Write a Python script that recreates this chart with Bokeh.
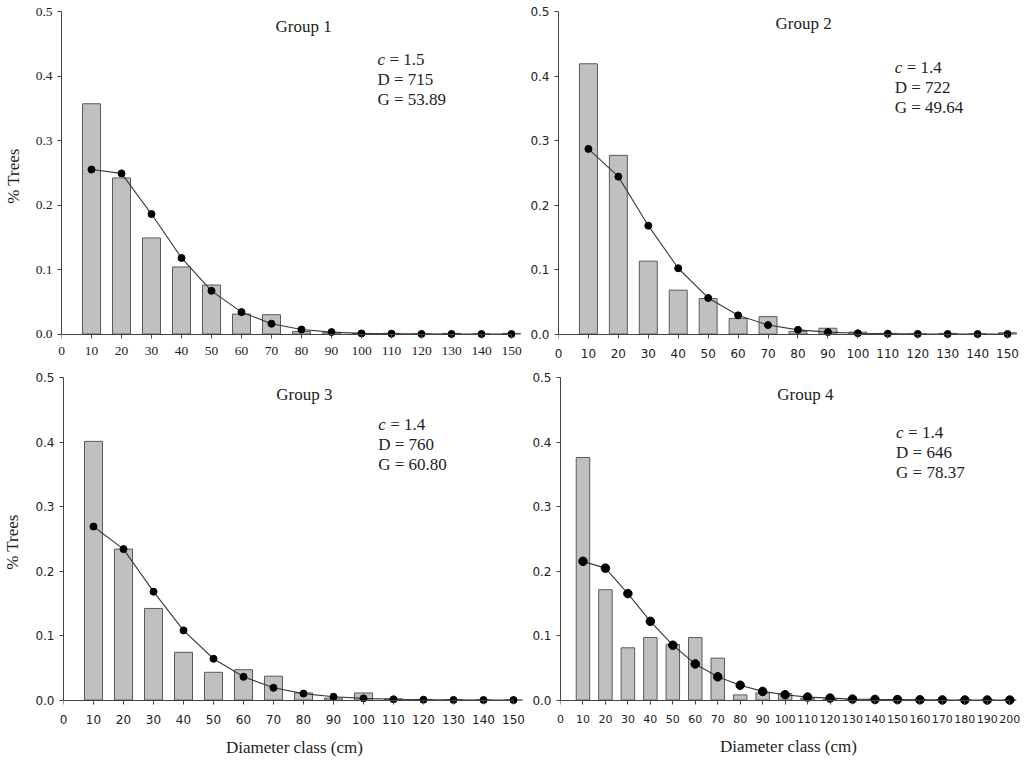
from bokeh.plotting import figure
from bokeh.models import Range1d, FixedTicker, PrintfTickFormatter, Label, LinearAxis
from bokeh.layouts import column, row
from bokeh.embed import file_html
from bokeh.resources import INLINE

# ---------------- data ----------------
classes_150 = [10, 20, 30, 40, 50, 60, 70, 80, 90, 100, 110, 120, 130, 140, 150]
classes_200 = [10, 20, 30, 40, 50, 60, 70, 80, 90, 100, 110, 120, 130, 140, 150,
               160, 170, 180, 190, 200]

g1_obs = [0.357, 0.242, 0.149, 0.104, 0.076, 0.031, 0.030, 0.004, 0.002, 0.001,
          0.001, 0.0, 0.001, 0.0, 0.001]
g1_fit = [0.255, 0.249, 0.186, 0.118, 0.067, 0.034, 0.016, 0.007, 0.003, 0.001,
          0.0005, 0.0002, 0.0001, 0.0, 0.0]

g2_obs = [0.419, 0.277, 0.113, 0.068, 0.055, 0.024, 0.027, 0.004, 0.009, 0.003,
          0.001, 0.0, 0.001, 0.0, 0.002]
g2_fit = [0.287, 0.244, 0.168, 0.102, 0.056, 0.029, 0.014, 0.0065, 0.003, 0.0013,
          0.0005, 0.0002, 0.0001, 0.0, 0.0]

g3_obs = [0.401, 0.234, 0.142, 0.074, 0.043, 0.047, 0.037, 0.011, 0.003, 0.011,
          0.002, 0.001, 0.0005, 0.0, 0.0]
g3_fit = [0.269, 0.234, 0.168, 0.108, 0.064, 0.036, 0.019, 0.010, 0.005, 0.0026,
          0.0012, 0.0005, 0.0002, 0.0001, 0.0]

g4_obs = [0.376, 0.171, 0.081, 0.097, 0.086, 0.097, 0.065, 0.008, 0.011, 0.010,
          0.003, 0.0015, 0.0005, 0.0003, 0.0003, 0.0002, 0.0, 0.0, 0.0, 0.0]
g4_fit = [0.215, 0.2045, 0.165, 0.122, 0.085, 0.056, 0.036, 0.023, 0.0134, 0.0083,
          0.0046, 0.003, 0.0015, 0.001, 0.0007, 0.0004, 0.0002, 0.0001, 0.0001, 0.0]

y_ticks = [0.0, 0.1, 0.2, 0.3, 0.4, 0.5]

titles = ["Group 1", "Group 2", "Group 3", "Group 4"]
c_values = ["1.5", "1.4", "1.4", "1.4"]
d_lines = ["D = 715", "D = 722", "D = 760", "D =  646"]
g_lines = ["G = 53.89", "G = 49.64", "G = 60.80", "G = 78.37"]

SERIF = "Liberation Serif"
SANS = "DejaVu Sans"
AXIS_COLOR = "#444444"
TEXT_COLOR = "#222222"


def panel(classes, obs, fit, xmax, xend, fw, bl, br, bt, bb, tick_font, ytick_size,
          xtick_size, xstand, idx, tx, ty, ax, ay, ms, ylabel=None, xlabel=None):
    p = figure(frame_width=fw, frame_height=329,
               x_range=Range1d(0, xend), y_range=Range1d(-0.01, 0.5),
               output_backend="svg", toolbar_location=None,
               min_border_left=bl, min_border_right=br,
               min_border_top=bt, min_border_bottom=bb)
    p.background_fill_color = "white"
    p.border_fill_color = "white"
    p.outline_line_color = None
    p.xgrid.visible = False
    p.ygrid.visible = False

    p.vbar(x=classes, top=obs, width=6, bottom=0,
           fill_color="#c0c0c0", line_color="#5a5a5a", line_width=1)
    p.line(classes, fit, line_color="#3a3a3a", line_width=1.1)
    p.scatter(classes, fit, size=ms, fill_color="black", line_color="black")

    xticks = list(range(0, xmax + 1, 10))

    # axis line + ticks drawn at y = 0
    xa = p.xaxis[0]
    xa.ticker = FixedTicker(ticks=xticks)
    xa.bounds = (0, xmax)
    xa.fixed_location = 0
    xa.major_label_text_font_size = "0px"
    xa.major_label_text_alpha = 0
    xa.major_label_standoff = 0
    # tick labels (and axis title) placed under the frame
    lab = LinearAxis(ticker=FixedTicker(ticks=xticks), bounds=(0, xmax))
    lab.axis_line_color = None
    lab.major_tick_line_color = None
    lab.minor_tick_line_color = None
    lab.major_tick_in = 0
    lab.major_tick_out = 0
    lab.major_label_standoff = xstand
    lab.major_label_text_font = tick_font
    lab.major_label_text_font_size = xtick_size
    lab.major_label_text_color = TEXT_COLOR
    if xlabel:
        lab.axis_label = xlabel
        lab.axis_label_standoff = 11
        lab.axis_label_text_font = SERIF
        lab.axis_label_text_font_size = "17px"
        lab.axis_label_text_font_style = "normal"
        lab.axis_label_text_color = TEXT_COLOR
    p.add_layout(lab, "below")

    ya = p.yaxis[0]
    ya.ticker = FixedTicker(ticks=y_ticks)
    ya.formatter = PrintfTickFormatter(format="%.1f")
    ya.bounds = (0, 0.5)
    for a in (xa, ya):
        a.minor_tick_line_color = None
        a.major_tick_in = 0
        a.major_tick_out = 4
        a.axis_line_color = AXIS_COLOR
        a.major_tick_line_color = AXIS_COLOR
    ya.major_label_text_font = tick_font
    ya.major_label_text_color = TEXT_COLOR
    ya.major_label_text_font_size = ytick_size
    ya.major_label_standoff = 5
    if ylabel:
        ya.axis_label = ylabel
        ya.axis_label_standoff = 10
        ya.axis_label_text_font = SERIF
        ya.axis_label_text_font_size = "17px"
        ya.axis_label_text_font_style = "normal"
        ya.axis_label_text_color = TEXT_COLOR

    p.add_layout(Label(x=tx, y=ty, text=titles[idx], text_align="center",
                       text_baseline="middle", text_font=SERIF,
                       text_font_size="17px", text_color=TEXT_COLOR))
    step = 0.031
    p.add_layout(Label(x=ax, y=ay, text="c", text_baseline="middle",
                       text_font=SERIF, text_font_size="17px",
                       text_font_style="italic", text_color=TEXT_COLOR))
    p.add_layout(Label(x=ax, y=ay, x_offset=12, text="= " + c_values[idx],
                       text_baseline="middle", text_font=SERIF,
                       text_font_size="17px", text_color=TEXT_COLOR))
    p.add_layout(Label(x=ax, y=ay - step, text=d_lines[idx],
                       text_baseline="middle", text_font=SERIF,
                       text_font_size="17px", text_color=TEXT_COLOR))
    p.add_layout(Label(x=ax, y=ay - 2 * step, text=g_lines[idx],
                       text_baseline="middle", text_font=SERIF,
                       text_font_size="17px", text_color=TEXT_COLOR))
    return p


p1 = panel(classes_150, g1_obs, g1_fit, 150, 154, 462, 54, 4, 11, 32,
           SERIF, "13.5px", "13.5px", 6, 0, 80.7, 0.477, 105.3, 0.426, 7,
           ylabel="% Trees")
p2 = panel(classes_150, g2_obs, g2_fit, 150, 154, 461, 31, 4, 11, 32,
           SANS, "12px", "12px", 8, 1, 81.9, 0.481, 112.3, 0.4135, 7)
p3 = panel(classes_150, g3_obs, g3_fit, 150, 154, 462, 54, 4, 5, 56,
           SANS, "12px", "12px", 8, 2, 80.3, 0.473, 104.9, 0.4264, 7,
           ylabel="% Trees", xlabel="Diameter class (cm)")
p4 = panel(classes_200, g4_obs, g4_fit, 200, 203, 456, 31, 9, 5, 56,
           SANS, "12px", "11px", 8, 3, 109.0, 0.473, 149.4, 0.415, 8.5,
           xlabel="Diameter class (cm)")

layout = column(row(p1, p2), row(p3, p4))
open("out.html", "w").write(file_html(layout, INLINE))
